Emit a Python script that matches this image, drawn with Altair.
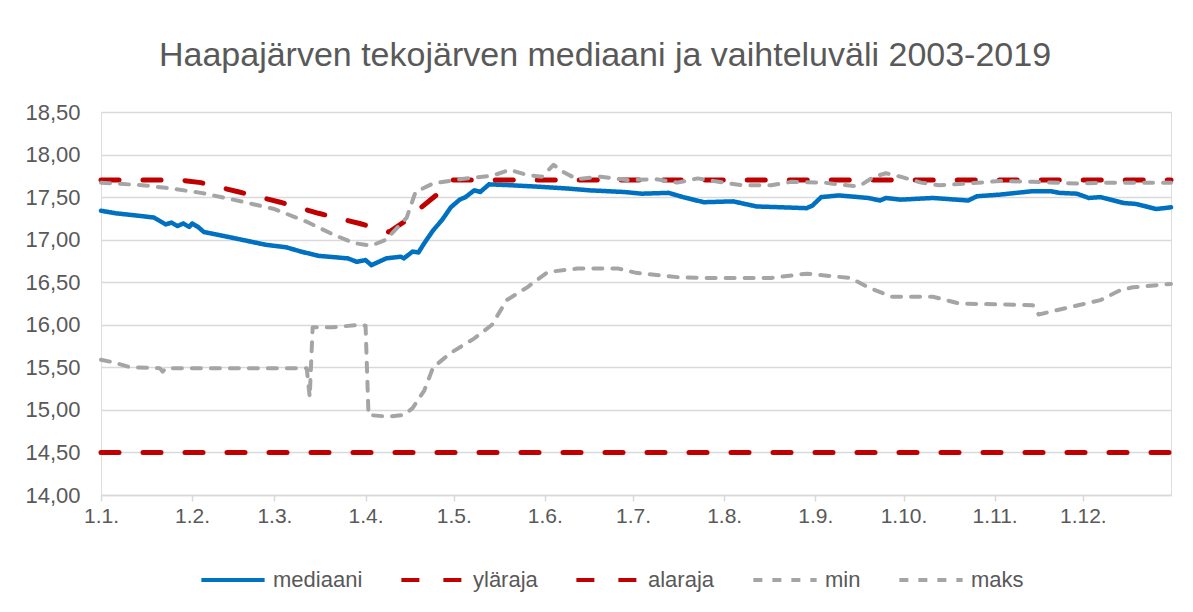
import altair as alt
import pandas as pd

# ---- data ----
series_names = ["mediaani", "yläraja", "alaraja", "min", "maks"]

month_days = [1, 32, 60, 91, 121, 152, 182, 213, 244, 274, 305, 335]
month_labels = ["1.1.", "1.2.", "1.3.", "1.4.", "1.5.", "1.6.", "1.7.", "1.8.",
                "1.9.", "1.10.", "1.11.", "1.12."]
y_ticks = [14.0, 14.5, 15.0, 15.5, 16.0, 16.5, 17.0, 17.5, 18.0, 18.5]

median_days = [1, 6, 14, 19, 22, 23, 25, 27, 29, 31, 32, 34, 36, 46, 57, 64, 69, 75, 85, 88,
               91, 93, 98, 103, 104, 107, 109, 111, 114, 117, 120, 123, 125, 128, 130, 132, 133,
               140, 151, 160, 167, 179, 185, 194, 199, 206, 216, 224, 233, 241, 243, 246, 252,
               262, 266, 268, 273, 284, 296, 299, 307, 318, 324, 327, 333, 337, 341, 349, 353,
               360, 365]
median_vals = [17.34, 17.31, 17.28, 17.26, 17.20, 17.18, 17.20, 17.16, 17.19, 17.15, 17.19,
               17.15, 17.09, 17.02, 16.94, 16.91, 16.86, 16.81, 16.78, 16.74, 16.76, 16.70,
               16.78, 16.80, 16.78, 16.86, 16.85, 16.96, 17.11, 17.23, 17.38, 17.47, 17.50,
               17.58, 17.56, 17.62, 17.65, 17.64, 17.62, 17.60, 17.58, 17.56, 17.54, 17.55,
               17.50, 17.44, 17.45, 17.39, 17.38, 17.37, 17.40, 17.50, 17.52, 17.49, 17.46,
               17.49, 17.47, 17.49, 17.46, 17.51, 17.53, 17.57, 17.57, 17.55, 17.54, 17.49,
               17.50, 17.43, 17.42, 17.36, 17.38]

upper_days = [1, 28, 35, 48, 62, 75, 89, 99, 105, 110, 116, 120, 365]
upper_vals = [17.70, 17.70, 17.67, 17.56, 17.44, 17.31, 17.19, 17.09, 17.23, 17.38, 17.55,
              17.70, 17.70]

lower_days = [1, 365]
lower_vals = [14.50, 14.50]

min_days = [1, 5, 11, 21, 22, 23, 69, 71, 72, 73, 80, 89, 91, 92, 99, 104, 107, 111, 114,
            120, 128, 134, 139, 146, 153, 163, 177, 183, 197, 206, 229, 241, 253, 256, 262,
            270, 284, 293, 318, 320, 326, 341, 348, 352, 365]
min_vals = [15.59, 15.56, 15.50, 15.49, 15.45, 15.49, 15.49, 15.49, 15.15, 15.97, 15.97,
            16.00, 15.99, 14.94, 14.92, 14.94, 15.02, 15.23, 15.50, 15.67, 15.84, 16.00,
            16.29, 16.44, 16.62, 16.66, 16.66, 16.61, 16.56, 16.55, 16.55, 16.60, 16.56,
            16.55, 16.44, 16.33, 16.33, 16.25, 16.23, 16.12, 16.17, 16.29, 16.41, 16.44,
            16.48]

max_days = [1, 15, 23, 35, 46, 60, 71, 80, 87, 93, 98, 105, 108, 114, 123, 134, 140, 146,
            151, 155, 158, 163, 171, 180, 190, 197, 204, 211, 219, 229, 236, 247, 257, 259,
            264, 268, 273, 280, 286, 296, 307, 318, 333, 344, 365]
max_vals = [17.67, 17.64, 17.61, 17.55, 17.47, 17.36, 17.21, 17.06, 16.96, 16.93, 17.00,
            17.26, 17.56, 17.66, 17.71, 17.75, 17.82, 17.76, 17.74, 17.88, 17.80, 17.71,
            17.74, 17.70, 17.71, 17.67, 17.72, 17.68, 17.64, 17.64, 17.68, 17.67, 17.63,
            17.63, 17.74, 17.78, 17.74, 17.67, 17.64, 17.66, 17.69, 17.68, 17.66, 17.67,
            17.67]

series_data = {
    "mediaani": (median_days, median_vals),
    "yläraja": (upper_days, upper_vals),
    "alaraja": (lower_days, lower_vals),
    "min": (min_days, min_vals),
    "maks": (max_days, max_vals),
}

rows = []
for name in series_names:
    days, vals = series_data[name]
    for d, v in zip(days, vals):
        rows.append({"series": name, "day": d, "value": v})
df = pd.DataFrame(rows)

# ---- styling ----
TEXT = "#595959"
GRID = "#D9D9D9"
FONT = "Liberation Sans"
colors = ["#0070C0", "#C00000", "#C00000", "#A5A5A5", "#A5A5A5"]
dashes = [[1, 0], [18, 24], [18, 24], [9, 10], [9, 10]]
widths = {"mediaani": 4.5, "yläraja": 5, "alaraja": 5, "min": 4, "maks": 4}

label_expr_x = "{" + ",".join(f"'{d}':'{l}'" for d, l in zip(month_days, month_labels)) + "}[''+datum.value]"

legend_def = alt.Legend(
    title=None, orient="none", legendX=98, legendY=434, direction="horizontal",
    columns=5, symbolType="stroke", symbolSize=4000, symbolStrokeWidth=4,
    labelFont=FONT, labelFontSize=22, labelColor=TEXT, labelOffset=6,
    columnPadding=30, symbolOpacity=1,
)

x_enc = alt.X(
    "day:Q",
    scale=alt.Scale(domain=[1, 365], nice=False, zero=False),
    axis=alt.Axis(
        values=month_days, labelExpr=label_expr_x, grid=False, ticks=True, tickSize=6,
        tickColor=GRID, tickWidth=1.5, domainColor=GRID, domainWidth=1.5,
        labelFont=FONT, labelFontSize=21, labelColor=TEXT, labelPadding=4,
        labelFlush=False, labelOverlap=False, title=None,
    ),
)
y_enc = alt.Y(
    "value:Q",
    scale=alt.Scale(domain=[14, 18.5], nice=False, zero=False),
    axis=alt.Axis(
        values=y_ticks, labelExpr="replace(format(datum.value, '.2f'), '.', ',')",
        grid=True, gridColor=GRID, gridWidth=1.3, domain=False, ticks=False,
        labelFont=FONT, labelFontSize=22, labelColor=TEXT, labelPadding=21, title=None,
    ),
)
color_enc = alt.Color("series:N", scale=alt.Scale(domain=series_names, range=colors),
                      legend=legend_def)
dash_enc = alt.StrokeDash("series:N", scale=alt.Scale(domain=series_names, range=dashes),
                          legend=legend_def)

layers = []
for name in series_names:
    layers.append(
        alt.Chart(df)
        .transform_filter(alt.datum.series == name)
        .mark_line(strokeWidth=widths[name], strokeCap="round", strokeJoin="round")
        .encode(x=x_enc, y=y_enc, color=color_enc, strokeDash=dash_enc)
    )

chart = (
    alt.layer(*layers)
    .properties(
        width=1070, height=383,
        title=alt.TitleParams(
            text="Haapajärven tekojärven mediaani ja vaihteluväli 2003-2019",
            font=FONT, fontSize=34, fontWeight="normal", color=TEXT,
            anchor="middle", dx=-31, offset=28,
        ),
        padding={"left": 93, "top": 104, "right": 14, "bottom": 100},
        autosize=alt.AutoSizeParams(type="none"),
    )
    .configure_view(stroke=None)
    .configure(background="white")
)

chart.save("out.html", embed_options={"renderer": "svg", "actions": False})
